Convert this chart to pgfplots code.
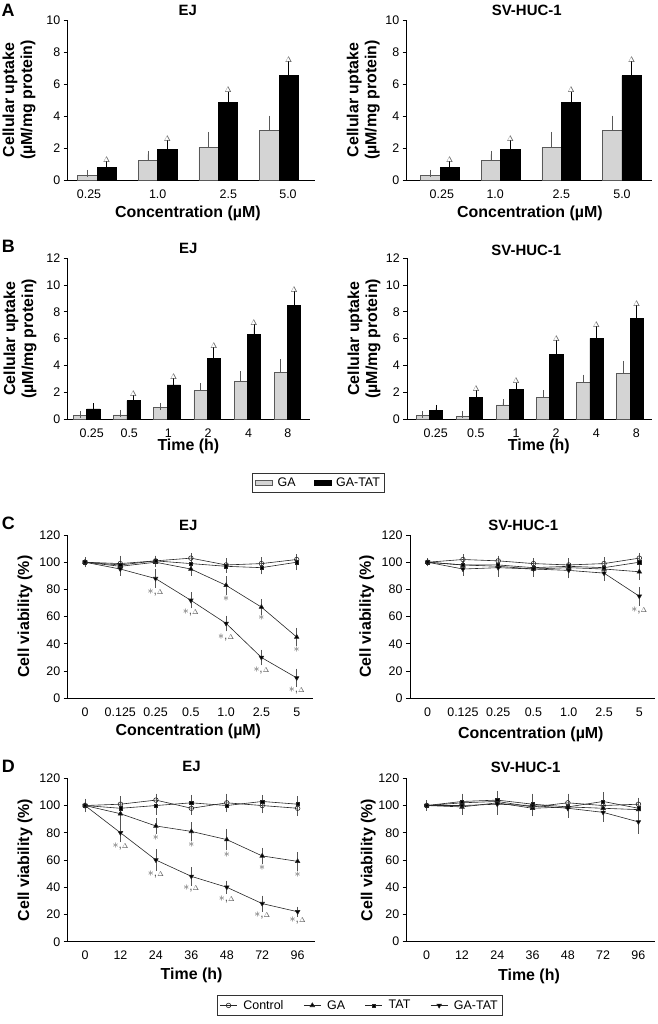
\documentclass[border=0pt]{standalone}
\usepackage{fontspec}
\setmainfont{Liberation Sans}
\usepackage{pgfplots}
\pgfplotsset{compat=1.18}

\newcommand{\tickfont}{\fontsize{12.5}{14}\selectfont}
\newcommand{\labfont}{\bfseries\fontsize{16}{18}\selectfont}
\newcommand{\titfont}{\bfseries\fontsize{15}{17}\selectfont}
\newcommand{\annfont}{\fontsize{12}{12}\selectfont}
\newcommand{\sd}{$\ast$,{\fontsize{7.5}{8}\selectfont$\Delta$}}
\newcommand{\st}{$\ast$}

\definecolor{barg}{HTML}{D4D4D4}
\definecolor{errg}{HTML}{555555}

\pgfplotsset{
  base/.style={scale only axis, clip=false, axis lines*=left,
    axis line style={line width=0.9bp, black},
    tick align=outside, major tick length=4bp,
    ytick style={line width=0.8bp, black},
    xtick style={draw=none},
    ticklabel style={font=\tickfont},
    /pgf/number format/assume math mode=true,
    xticklabel style={yshift=-2bp},
    label style={font=\labfont},
    every axis title shift=0pt,
    title style={font=\titfont, anchor=center},
    ylabel style={anchor=center, align=center},
    xlabel style={anchor=center}},
  bars10/.style={base, ymin=0, ymax=10, ytick={0,2,...,10}},
  bars12/.style={base, ymin=0, ymax=12, ytick={0,2,...,12}},
  lines/.style={base, ymin=0, ymax=120, ytick={0,20,...,120}, xtick={0,...,6}},
  gabar/.style={ybar, bar shift=0pt, fill=barg, draw=black!65, line width=0.6bp,
    legend image code/.code={\draw[##1] (0bp,-2.5bp) rectangle (17bp,2.5bp);},
    error bars/.cd, y dir=plus, y explicit,
    error bar style={line width=0.8bp, black!65},
    error mark options={mark size=3.5bp, line width=0.8bp, black!65}},
  tatbar/.style={ybar, bar shift=0pt, fill=black, draw=black, line width=0.6bp,
    legend image code/.code={\draw[##1] (0bp,-2.5bp) rectangle (17bp,2.5bp);},
    error bars/.cd, y dir=plus, y explicit,
    error bar style={line width=0.8bp, black},
    error mark options={mark size=3.5bp, line width=0.8bp, black}},
  delta/.style={draw=none, forget plot, nodes near coords={$\Delta$},
    nodes near coords style={font=\fontsize{8.5}{9}\selectfont, text=errg, inner sep=2bp}},
  ann/.style={draw=none, forget plot, nodes near coords, point meta=explicit symbolic,
    nodes near coords style={font=\annfont, text=errg, anchor=center, inner sep=0pt}},
  lbase/.style={color=black!85, line width=0.6bp,
    error bars/.cd, y dir=both, y explicit,
    error bar style={line width=0.6bp, errg},
    error mark options={mark size=2.5bp, line width=0.6bp, errg}},
  sctrl/.style={mark=o, mark size=2.3bp, mark options={fill=white, solid}, lbase},
  sga/.style={mark=triangle*, mark size=2.6bp, mark options={fill=black}, lbase},
  stat/.style={mark=square*, mark size=1.6bp, mark options={fill=black}, lbase},
  sgatat/.style={mark=triangle*, mark size=2.6bp, mark options={fill=black, rotate=180}, lbase},
}

\begin{document}
\begin{tikzpicture}
\path[use as bounding box] (0,0) rectangle (658bp,-1024bp);

\node[font=\bfseries\fontsize{18}{20}\selectfont] at (8bp,-10bp) {A};
\node[font=\bfseries\fontsize{18}{20}\selectfont] at (8.3bp,-246.7bp) {B};
\node[font=\bfseries\fontsize{18}{20}\selectfont] at (8.3bp,-523.3bp) {C};
\node[font=\bfseries\fontsize{18}{20}\selectfont] at (8.3bp,-766bp) {D};

% ---- A, EJ
\begin{axis}[bars10, at={(67.7bp,-180bp)}, anchor=south west, width=247.3bp, height=160bp,
  xmin=-0.483, xmax=3.593, xtick={-0.132,1,2.165,3.148}, xticklabels={0.25,1.0,2.5,5.0},
  bar width=0.32,
  title={EJ}, title style={at={(axis description cs:0.486,1.0625)}},
  xlabel={Concentration (µM)}, xlabel style={at={(axis description cs:0.486,-0.206)}},
  ylabel={Cellular uptake\\(µM/mg protein)}, ylabel style={at={(axis description cs:-0.197,0.5)}}]
\addplot[gabar] coordinates {(-0.16,0.27) +- (0,0.15) (0.84,1.25) +- (0,0.35) (1.84,2.04) +- (0,0.75) (2.84,3.12) +- (0,0.69)};
\addplot[tatbar] coordinates {(0.16,0.77) +- (0,0.17) (1.16,1.92) +- (0,0.37) (2.16,4.83) +- (0,0.48) (3.16,6.52) +- (0,0.71)};
\addplot[delta] coordinates {(0.16,0.94) (1.16,2.29) (2.16,5.31) (3.16,7.23)};
\end{axis}

% ---- A, SV-HUC-1
\begin{axis}[bars10, at={(406.7bp,-180bp)}, anchor=south west, width=245bp, height=160bp,
  xmin=-0.549, xmax=3.49, xtick={0.03,0.91,2,3}, xticklabels={0.25,1.0,2.5,5.0},
  bar width=0.32,
  title={SV-HUC-1}, title style={at={(axis description cs:0.49,1.0625)}},
  xlabel={Concentration (µM)}, xlabel style={at={(axis description cs:0.503,-0.208)}},
  ylabel={Cellular uptake\\(µM/mg protein)}, ylabel style={at={(axis description cs:-0.177,0.5)}}]
\addplot[gabar] coordinates {(-0.16,0.27) +- (0,0.15) (0.84,1.25) +- (0,0.35) (1.84,2.04) +- (0,0.75) (2.84,3.12) +- (0,0.69)};
\addplot[tatbar] coordinates {(0.16,0.77) +- (0,0.17) (1.16,1.92) +- (0,0.37) (2.16,4.83) +- (0,0.48) (3.16,6.52) +- (0,0.71)};
\addplot[delta] coordinates {(0.16,0.94) (1.16,2.29) (2.16,5.31) (3.16,7.23)};
\end{axis}

% ---- B, EJ
\begin{axis}[bars12, at={(67.7bp,-419bp)}, anchor=south west, width=242.3bp, height=160.7bp,
  xmin=-0.473, xmax=5.56, xtick={0.125,1.06,2.03,3.02,4.03,5.01}, xticklabels={0.25,0.5,1,2,4,8},
  bar width=0.33,
  title={EJ}, title style={at={(axis description cs:0.498,1.062)}},
  xlabel={Time (h)}, xlabel style={at={(axis description cs:0.498,-0.172)}},
  ylabel={Cellular uptake\\(µM/mg protein)}, ylabel style={at={(axis description cs:-0.197,0.5)}},
  legend style={at={(axis description cs:1.035,-0.398)}, anchor=center, legend columns=2,
    draw=black!80, line width=0.6bp, font=\tickfont, inner sep=2.5bp,
    /tikz/every odd column/.append style={column sep=3bp},
    /tikz/every even column/.append style={column sep=16bp}}]
\addplot[gabar] coordinates {(-0.165,0.28) +- (0,0.06) (0.835,0.3) +- (0,0.12) (1.835,0.85) +- (0,0.1) (2.835,2.12) +- (0,0.29) (3.835,2.79) +- (0,0.5) (4.835,3.5) +- (0,0.7)};
\addlegendentry{GA}
\addplot[tatbar] coordinates {(0.165,0.75) +- (0,0.15) (1.165,1.37) +- (0,0.17) (2.165,2.54) +- (0,0.25) (3.165,4.53) +- (0,0.57) (4.165,6.32) +- (0,0.53) (5.165,8.46) +- (0,0.85)};
\addlegendentry{GA-TAT}
\addplot[delta] coordinates {(1.165,1.54) (2.165,2.79) (3.165,5.10) (4.165,6.85) (5.165,9.31)};
\end{axis}

% ---- B, SV-HUC-1
\begin{axis}[bars12, at={(407.3bp,-419bp)}, anchor=south west, width=244.4bp, height=160.7bp,
  xmin=-0.548, xmax=5.54, xtick={0.16,1.16,2.16,3.16,4.16,5.16}, xticklabels={0.25,0.5,1,2,4,8},
  bar width=0.33,
  title={SV-HUC-1}, title style={at={(axis description cs:0.487,1.052)}},
  xlabel={Time (h)}, xlabel style={at={(axis description cs:0.538,-0.172)}},
  ylabel={Cellular uptake\\(µM/mg protein)}, ylabel style={at={(axis description cs:-0.177,0.5)}}]
\addplot[gabar] coordinates {(-0.165,0.25) +- (0,0.1) (0.835,0.2) +- (0,0.15) (1.835,1.05) +- (0,0.17) (2.835,1.62) +- (0,0.25) (3.835,2.72) +- (0,0.33) (4.835,3.41) +- (0,0.67)};
\addplot[tatbar] coordinates {(0.165,0.65) +- (0,0.15) (1.165,1.59) +- (0,0.28) (2.165,2.2) +- (0,0.25) (3.165,4.85) +- (0,0.8) (4.165,6.02) +- (0,0.63) (5.165,7.52) +- (0,0.74)};
\addplot[delta] coordinates {(1.165,1.87) (2.165,2.45) (3.165,5.65) (4.165,6.65) (5.165,8.26)};
\end{axis}

% ---- C, EJ
\begin{axis}[lines, at={(67.7bp,-698.3bp)}, anchor=south west, width=245.6bp, height=163.3bp,
  xmin=-0.49, xmax=6.47, xticklabels={0,0.125,0.25,0.5,1.0,2.5,5},
  title={EJ}, title style={at={(axis description cs:0.491,1.061)}},
  xlabel={Concentration (µM)}, xlabel style={at={(axis description cs:0.491,-0.204)}},
  ylabel={Cell viability (\%)}, ylabel style={at={(axis description cs:-0.174,0.5)}}]
\addplot[sctrl] coordinates {(0,100) +- (0,2) (1,99) +- (0,4) (2,101) +- (0,2) (3,103) +- (0,2) (4,98) +- (0,3) (5,99) +- (0,3) (6,102) +- (0,2)};
\addplot[sga] coordinates {(0,100) +- (0,1) (1,97) +- (0,3) (2,100) +- (0,2) (3,95) +- (0,3) (4,83) +- (0,5) (5,67) +- (0,4) (6,45) +- (0,5)};
\addplot[stat] coordinates {(0,100) +- (0,1) (1,98) +- (0,3) (2,101) +- (0,2) (3,99) +- (0,3) (4,97) +- (0,3) (5,96) +- (0,3) (6,100) +- (0,4)};
\addplot[sgatat] coordinates {(0,100) +- (0,1) (1,95) +- (0,3) (2,88) +- (0,5) (3,72) +- (0,4) (4,55) +- (0,4) (5,30) +- (0,4) (6,15) +- (0,5)};
\addplot[ann] coordinates {(2,77.9) [\sd] (3,62.9) [\sd] (4,44.6) [\sd] (5,20.3) [\sd] (6,5.4) [\sd]
  (4,73.5) [\st] (5,59.5) [\st] (6,35.5) [\st]};
\end{axis}

% ---- C, SV-HUC-1
\begin{axis}[lines, at={(410bp,-698.3bp)}, anchor=south west, width=245bp, height=163.3bp,
  xmin=-0.50, xmax=6.445, xticklabels={0,0.125,0.25,0.5,1.0,2.5,5},
  title={SV-HUC-1}, title style={at={(axis description cs:0.462,1.061)}},
  xlabel={Concentration (µM)}, xlabel style={at={(axis description cs:0.493,-0.219)}},
  ylabel={Cell viability (\%)}, ylabel style={at={(axis description cs:-0.177,0.5)}}]
\addplot[sctrl] coordinates {(0,100) +- (0,1) (1,102) +- (0,2) (2,101) +- (0,2) (3,99) +- (0,2) (4,98) +- (0,3) (5,99) +- (0,3) (6,103) +- (0,2)};
\addplot[sga] coordinates {(0,100) +- (0,1) (1,98) +- (0,3) (2,97) +- (0,3) (3,95) +- (0,3) (4,96) +- (0,4) (5,95) +- (0,3) (6,93) +- (0,4)};
\addplot[stat] coordinates {(0,100) +- (0,1) (1,98) +- (0,3) (2,98) +- (0,3) (3,96) +- (0,3) (4,97) +- (0,4) (5,96) +- (0,3) (6,100) +- (0,3)};
\addplot[sgatat] coordinates {(0,100) +- (0,1) (1,95) +- (0,3) (2,96) +- (0,5) (3,95) +- (0,4) (4,94) +- (0,4) (5,92) +- (0,4) (6,75) +- (0,5)};
\addplot[ann] coordinates {(6,64.9) [\sd]};
\end{axis}

% ---- D, EJ
\begin{axis}[lines, at={(67.7bp,-941.7bp)}, anchor=south west, width=247.3bp, height=163.4bp,
  xmin=-0.49, xmax=6.49, xticklabels={0,12,24,36,48,72,96},
  title={EJ}, title style={at={(axis description cs:0.501,1.071)}},
  xlabel={Time (h)}, xlabel style={at={(axis description cs:0.501,-0.204)}},
  ylabel={Cell viability (\%)}, ylabel style={at={(axis description cs:-0.173,0.5)}},
  legend style={at={(axis description cs:1.181,-0.39)}, anchor=center, legend columns=4,
    draw=black!80, line width=0.6bp, font=\tickfont, inner sep=2.5bp,
    /tikz/every odd column/.append style={column sep=4bp},
    /tikz/every even column/.append style={column sep=18bp}}]
\addplot[sctrl] coordinates {(0,100) +- (0,3) (1,101) +- (0,4) (2,104) +- (0,3) (3,98) +- (0,3) (4,102) +- (0,5) (5,100) +- (0,4) (6,98) +- (0,4)};
\addlegendentry{Control}
\addplot[sga] coordinates {(0,100) +- (0,3) (1,94) +- (0,5) (2,85) +- (0,4) (3,81) +- (0,5) (4,75) +- (0,6) (5,63) +- (0,4) (6,59) +- (0,5)};
\addlegendentry{GA}
\addplot[stat] coordinates {(0,100) +- (0,2) (1,98) +- (0,4) (2,100) +- (0,5) (3,102) +- (0,4) (4,100) +- (0,3) (5,103) +- (0,3) (6,101) +- (0,4)};
\addlegendentry{TAT}
\addplot[sgatat] coordinates {(0,100) +- (0,2) (1,80) +- (0,5) (2,60) +- (0,6) (3,48) +- (0,5) (4,40) +- (0,3) (5,28) +- (0,4) (6,22) +- (0,2)};
\addlegendentry{GA-TAT}
\addplot[ann] coordinates {(1,70.3) [\sd] (2,49.7) [\sd] (3,39.2) [\sd] (4,31.3) [\sd] (5,19.3) [\sd] (6,15.4) [\sd]
  (2,76.7) [\st] (3,71) [\st] (4,64.2) [\st] (5,54.4) [\st] (6,49) [\st]};
\end{axis}

% ---- D, SV-HUC-1
\begin{axis}[lines, at={(406.7bp,-941.7bp)}, anchor=south west, width=248.3bp, height=163.4bp,
  xmin=-0.567, xmax=6.47, xticklabels={0,12,24,36,48,72,96},
  title={SV-HUC-1}, title style={at={(axis description cs:0.479,1.067)}},
  xlabel={Time (h)}, xlabel style={at={(axis description cs:0.4925,-0.214)}},
  ylabel={Cell viability (\%)}, ylabel style={at={(axis description cs:-0.155,0.5)}}]
\addplot[sctrl] coordinates {(0,100) +- (0,2) (1,102) +- (0,4) (2,103) +- (0,5) (3,99) +- (0,4) (4,102) +- (0,5) (5,100) +- (0,4) (6,101) +- (0,3)};
\addplot[sga] coordinates {(0,100) +- (0,2) (1,99) +- (0,4) (2,102) +- (0,6) (3,98) +- (0,4) (4,99) +- (0,4) (5,98) +- (0,4) (6,97) +- (0,4)};
\addplot[stat] coordinates {(0,100) +- (0,2) (1,103) +- (0,4) (2,104) +- (0,5) (3,101) +- (0,6) (4,99) +- (0,5) (5,103) +- (0,5) (6,98) +- (0,5)};
\addplot[sgatat] coordinates {(0,100) +- (0,2) (1,100) +- (0,5) (2,101) +- (0,6) (3,100) +- (0,6) (4,98) +- (0,5) (5,95) +- (0,5) (6,88) +- (0,7)};
\end{axis}

\end{tikzpicture}
\end{document}
